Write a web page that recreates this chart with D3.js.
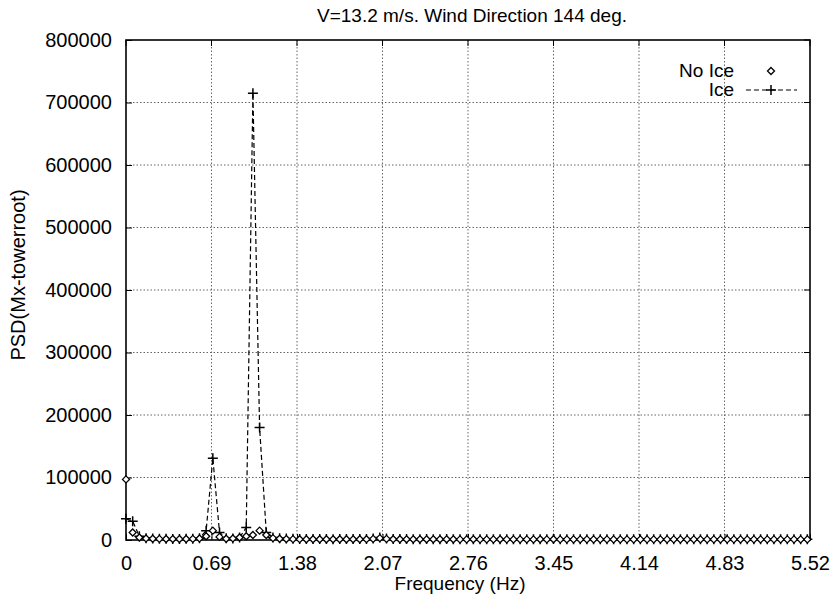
<!DOCTYPE html>
<html><head><meta charset="utf-8">
<script src="https://cdn.jsdelivr.net/npm/d3@7"></script>
<style>body{margin:0;background:#fff;} text{font-family:"Liberation Sans",Arial,sans-serif;fill:#000;}</style>
</head><body>
<svg id="c" width="831" height="595"></svg>
<script>
const title = "V=13.2 m/s. Wind Direction 144 deg.";
const xLabel = "Frequency (Hz)";
const yLabel = "PSD(Mx-towerroot)";
const xTicks = [0, 0.69, 1.38, 2.07, 2.76, 3.45, 4.14, 4.83, 5.52];
const yTicks = [0, 100000, 200000, 300000, 400000, 500000, 600000, 700000, 800000];
const df = 0.05390625;
const iceValues = [
 34000, 30000, 6000, 3000, 2500, 2000, 2000, 1800, 1800, 2000,
 2200, 3000, 15000, 131000, 12000, 3000, 2500, 4000, 20000, 715000,
 180000, 12000, 4000, 3000, 2500, 2000, 1800, 1600, 1500, 1500,
 1500, 1400, 1500, 1600, 1500, 1500, 1800, 2500, 4000, 2500,
 1800, 1500, 1500, 1400, 1400, 1500, 1400, 1400, 1500, 1400,
 1400, 1300, 1400, 1400, 1300, 1300, 1400, 1300, 1300, 1300,
 1300, 1300, 1400, 1300, 1500, 1300, 1300, 1200, 1300, 1200,
 1200, 1300, 1200, 1200, 1200, 1300, 1200, 1200, 1200, 1200,
 1200, 1200, 1300, 1200, 1200, 1200, 1100, 1200, 1100, 1100,
 1200, 1100, 1100, 1100, 1100, 1100, 1200, 1100, 1100, 1100,
 1100, 1100, 1100
];
const noIceValues = [
 97000, 12000, 4000, 2500, 2000, 1800, 1600, 1500, 1500, 1600,
 1800, 2500, 6000, 15000, 5000, 2000, 2500, 4000, 6000, 8000,
 15000, 8000, 3000, 2000, 1500, 1400, 1300, 1200, 1200, 1200,
 1200, 1100, 1200, 1200, 1100, 1200, 1300, 1800, 3000, 1800,
 1300, 1200, 1100, 1100, 1100, 1100, 1100, 1100, 1100, 1100,
 1000, 1000, 1100, 1000, 1000, 1000, 1100, 1000, 1000, 1000,
 1000, 1000, 1100, 1000, 1200, 1000, 1000, 1000, 1000, 1000,
 1000, 1000, 1000, 1000, 1000, 1000, 1000, 1000, 1000, 1000,
 1000, 1000, 1000, 1000, 1000, 1000, 1000, 1000, 1000, 1000,
 1000, 1000, 1000, 1000, 1000, 1000, 1000, 1000, 1000, 1000,
 1000, 1000, 1000
];
const seriesNames = ["No Ice", "Ice"];

const svg = d3.select("#c");
const L = 126, R = 810, T = 40, B = 540;
const x = d3.scaleLinear().domain([0, 5.52]).range([L, R]);
const y = d3.scaleLinear().domain([0, 800000]).range([B, T]);

// grid
const g = svg.append("g");
g.selectAll(".gx").data(xTicks.slice(1, -1)).join("line")
  .attr("x1", d => x(d)).attr("x2", d => x(d)).attr("y1", T).attr("y2", B)
  .attr("stroke", "#666").attr("stroke-width", 1).attr("stroke-dasharray", "1.5,2");
g.selectAll(".gy").data(yTicks.slice(1, -1)).join("line")
  .attr("x1", L).attr("x2", R).attr("y1", d => y(d)).attr("y2", d => y(d))
  .attr("stroke", "#666").attr("stroke-width", 1).attr("stroke-dasharray", "1.5,2");

// axes
const xAxis = d3.axisBottom(x).tickValues(xTicks).tickFormat(d => String(d)).tickSize(-6).tickPadding(10);
const yAxis = d3.axisLeft(y).tickValues(yTicks).tickFormat(d => String(d)).tickSize(-6).tickPadding(14);
const ax = svg.append("g").attr("transform", `translate(0,${B})`).call(xAxis);
const ay = svg.append("g").attr("transform", `translate(${L},0)`).call(yAxis);
[ax, ay].forEach(a => {
  a.select(".domain").remove();
  a.selectAll("line").attr("stroke", "#000");
  a.selectAll("text").style("font-size", "20px").attr("fill", "#000");
});
ax.selectAll("text").attr("y", 30).attr("dy", null);
// top/right ticks
svg.selectAll(".tt").data(xTicks).join("line")
  .attr("x1", d => x(d)).attr("x2", d => x(d)).attr("y1", T).attr("y2", T + 6).attr("stroke", "#000");
svg.selectAll(".rt").data(yTicks).join("line")
  .attr("x1", R).attr("x2", R - 6).attr("y1", d => y(d)).attr("y2", d => y(d)).attr("stroke", "#000");

// frame
svg.append("rect").attr("x", L).attr("y", T).attr("width", R - L).attr("height", B - T)
  .attr("fill", "none").attr("stroke", "#000").attr("stroke-width", 1.6);

const ice = iceValues.map((v, i) => ({ f: i * df, v }));
const noIce = noIceValues.map((v, i) => ({ f: i * df, v }));

// Ice line (dashed) with + markers
svg.append("path").datum(ice)
  .attr("d", d3.line().x(d => x(d.f)).y(d => y(d.v)))
  .attr("fill", "none").attr("stroke", "#000").attr("stroke-width", 1.2).attr("stroke-dasharray", "5,3");
svg.append("g").selectAll("path").data(ice).join("path")
  .attr("transform", d => `translate(${x(d.f)},${y(d.v)})`)
  .attr("d", "M-5,0H5M0,-5V5").attr("stroke", "#000").attr("stroke-width", 1.5).attr("fill", "none");

// No Ice diamonds
svg.append("g").selectAll("path").data(noIce).join("path")
  .attr("transform", d => `translate(${x(d.f)},${y(d.v)})`)
  .attr("d", "M0,-3.5L3.5,0L0,3.5L-3.5,0Z").attr("stroke", "#000").attr("stroke-width", 1.3).attr("fill", "#fff");

// title & labels
svg.append("text").attr("x", 472).attr("y", 22).attr("text-anchor", "middle").style("font-size", "19px").text(title);
svg.append("text").attr("x", 460).attr("y", 590).attr("text-anchor", "middle").style("font-size", "19px").text(xLabel);
svg.append("text").attr("transform", "translate(25,275) rotate(-90)").attr("text-anchor", "middle").style("font-size", "20px").text(yLabel);

// legend
svg.append("text").attr("x", 734).attr("y", 77).attr("text-anchor", "end").style("font-size", "19px").text(seriesNames[0]);
svg.append("path").attr("transform", "translate(771,71)").attr("d", "M0,-3.5L3.5,0L0,3.5L-3.5,0Z")
  .attr("stroke", "#000").attr("stroke-width", 1.3).attr("fill", "#fff");
svg.append("text").attr("x", 734).attr("y", 96).attr("text-anchor", "end").style("font-size", "19px").text(seriesNames[1]);
svg.append("line").attr("x1", 746).attr("x2", 797).attr("y1", 90).attr("y2", 90)
  .attr("stroke", "#000").attr("stroke-width", 1.2).attr("stroke-dasharray", "5,3");
svg.append("path").attr("transform", "translate(771,90)").attr("d", "M-5,0H5M0,-5V5").attr("stroke", "#000").attr("stroke-width", 1.5);
</script>
</body></html>
